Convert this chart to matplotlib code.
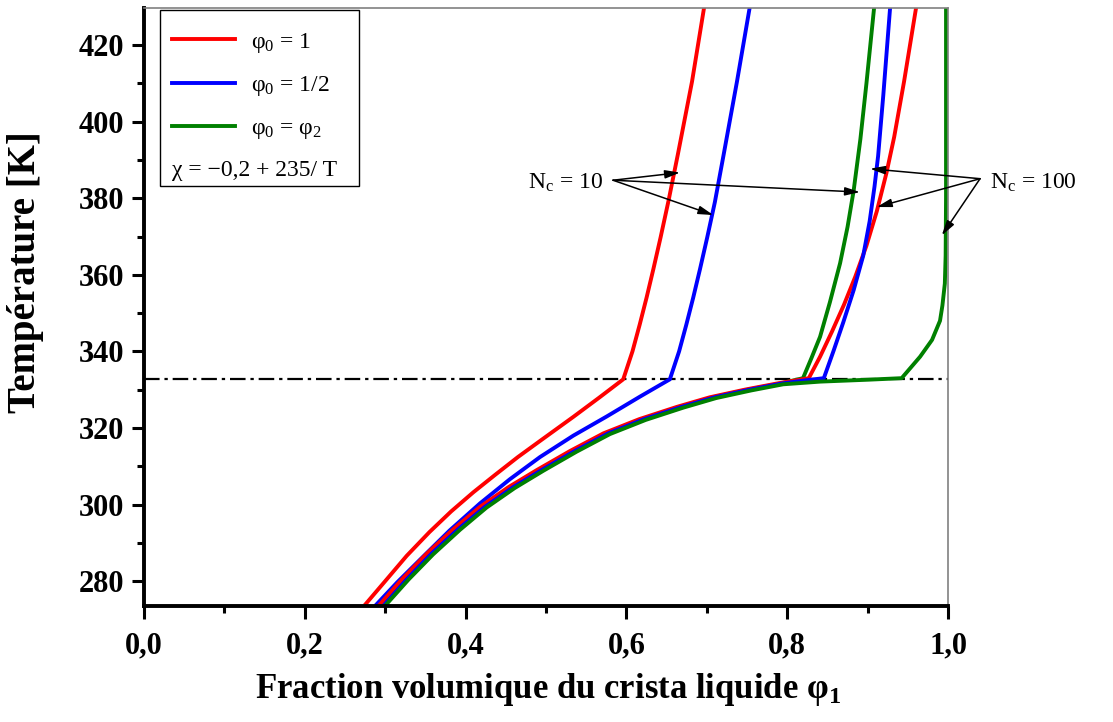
import matplotlib
matplotlib.use('Agg')
import matplotlib.pyplot as plt
from matplotlib.patches import Rectangle

plt.rcParams['font.family'] = ['Liberation Serif', 'DejaVu Serif']
plt.rcParams['mathtext.fontset'] = 'custom'
plt.rcParams['mathtext.rm'] = 'Liberation Serif'
plt.rcParams['mathtext.it'] = 'Liberation Serif:italic'
plt.rcParams['mathtext.bf'] = 'Liberation Serif:bold'

# --- donnees (phi_1, T en K) ---
# N_c = 10
rouge10_x = [0.2736, 0.300, 0.3267, 0.355, 0.382, 0.4096, 0.437, 0.465, 0.4925,
             0.534, 0.566, 0.596,
             0.6075, 0.6165, 0.6250, 0.6335, 0.6425, 0.6525, 0.6640, 0.6816, 0.6965]
rouge10_T = [273.5, 280.0, 286.6, 292.8, 298.2, 303.2, 307.8, 312.4, 316.6,
             322.9, 327.9, 332.7,
             340.0, 347.0, 354.0, 361.5, 369.8, 379.5, 391.5, 410.5, 429.7]

bleu10_x = [0.2873, 0.315, 0.3433, 0.380, 0.4179, 0.455, 0.4925, 0.534, 0.5755,
            0.617, 0.654,
            0.6655, 0.6745, 0.6830, 0.6915, 0.7005, 0.7100, 0.7210, 0.7375, 0.7532]
bleu10_T = [273.5, 279.7, 285.6, 293.2, 300.3, 306.6, 312.4, 318.0, 323.0,
            328.2, 332.7,
            340.0, 347.0, 354.0, 361.5, 369.8, 379.0, 391.5, 410.5, 429.7]

vert10_x = [0.2956, 0.325, 0.3557, 0.389, 0.422, 0.457, 0.4925, 0.534, 0.5755,
            0.620, 0.6667, 0.7075, 0.7512, 0.791, 0.8196,
            0.8300, 0.8408, 0.8530, 0.8657, 0.8750, 0.8826, 0.8910, 0.8985, 0.9080]
vert10_T = [273.5, 280.5, 287.2, 293.6, 299.4, 304.5, 309.0, 314.0, 318.6,
            322.3, 325.5, 328.0, 330.0, 331.6, 333.0,
            338.2, 343.8, 352.8, 363.0, 372.5, 382.0, 395.5, 410.0, 429.7]

# N_c = 100
rouge100_x = [0.2916, 0.321, 0.3517, 0.385, 0.418, 0.453, 0.4885, 0.530, 0.5715,
              0.616, 0.6627, 0.7035, 0.7472, 0.787, 0.810, 0.8268,
              0.8408, 0.8557, 0.8706, 0.8846, 0.8985, 0.9114, 0.9234, 0.9330,
              0.9453, 0.9602]
rouge100_T = [273.5, 280.5, 287.2, 293.6, 299.4, 304.5, 309.0, 314.0, 318.6,
              322.3, 325.5, 328.0, 330.0, 331.6, 332.4, 333.0,
              338.6, 345.2, 352.2, 359.5, 367.6, 376.6, 386.6, 396.0,
              410.5, 429.7]

bleu100_x = [0.2976, 0.327, 0.3577, 0.391, 0.424, 0.459, 0.4945, 0.536, 0.5775,
             0.622, 0.6687, 0.7095, 0.7532, 0.793, 0.8216, 0.8455,
             0.8577, 0.8697, 0.8826, 0.8945, 0.9025, 0.9085, 0.9130, 0.9195, 0.9279]
bleu100_T = [273.5, 280.5, 287.2, 293.6, 299.4, 304.5, 309.0, 314.0, 318.6,
             322.3, 325.5, 328.0, 330.0, 331.6, 332.4, 333.0,
             340.2, 347.6, 356.0, 365.0, 374.0, 383.0, 391.0, 407.0, 429.7]

vert100_x = [0.2996, 0.329, 0.3597, 0.393, 0.426, 0.461, 0.4965, 0.538, 0.5795,
             0.624, 0.6707, 0.7115, 0.7552, 0.795, 0.8408, 0.9005, 0.9423,
             0.9652, 0.9801, 0.9900, 0.9930, 0.9960, 0.9970, 0.9975, 0.9975]
vert100_T = [273.5, 280.4, 287.0, 293.4, 299.2, 304.3, 308.8, 313.8, 318.4,
             322.1, 325.3, 327.8, 329.8, 331.4, 332.1, 332.6, 333.0,
             338.6, 343.0, 348.0, 352.0, 357.7, 365.0, 380.0, 429.7]

T_transition = 332.9

legende = ['φ$_\\mathregular{0}$ = 1', 'φ$_\\mathregular{0}$ = 1/2',
           'φ$_\\mathregular{0}$ = φ$_\\mathregular{2}$']
chi_texte = 'χ = −0,2 + 235/ T'

xticks = [0.0, 0.2, 0.4, 0.6, 0.8, 1.0]
xticks_min = [0.1, 0.3, 0.5, 0.7, 0.9]
yticks = [280, 300, 320, 340, 360, 380, 400, 420]
yticks_min = [290, 310, 330, 350, 370, 390, 410]

# fleches : origine et cibles
orig10 = (0.5833, 384.7)
cibles10 = [(0.6667, 386.7), (0.7081, 375.6), (0.8905, 381.6)]
orig100 = (1.0398, 385.1)
cibles100 = [(0.9030, 387.7), (0.9113, 377.7), (0.9922, 370.3)]

fig = plt.figure(figsize=(11.13, 7.22), dpi=100)
ax = fig.add_axes([0.1294, 0.1607, 0.7224, 0.8283])

lw = 2.8
ax.plot(rouge10_x, rouge10_T, color='#ff0000', lw=lw, label=legende[0])
ax.plot(bleu10_x, bleu10_T, color='#0000ff', lw=lw, label=legende[1])
ax.plot(vert10_x, vert10_T, color='#008000', lw=lw, label=legende[2])
ax.plot(rouge100_x, rouge100_T, color='#ff0000', lw=lw)
ax.plot(bleu100_x, bleu100_T, color='#0000ff', lw=lw)
ax.plot(vert100_x, vert100_T, color='#008000', lw=lw)

ax.axhline(T_transition, color='black', lw=1.6, ls=(0, (7, 2.2, 1.5, 2.2)), zorder=1)

ax.set_xlim(0, 1.0)
ax.set_ylim(273.5, 429.7)

ax.set_xticks(xticks)
ax.set_xticklabels([f'{v:.1f}'.replace('.', ',') for v in xticks])
ax.set_xticks(xticks_min, minor=True)
ax.set_yticks(yticks)
ax.set_yticks(yticks_min, minor=True)

for lab in ax.get_xticklabels() + ax.get_yticklabels():
    lab.set_fontweight('bold')
    lab.set_fontsize(22)

ax.tick_params(which='major', direction='out', length=9, width=2.2)
ax.tick_params(which='minor', direction='out', length=5, width=2.2)
ax.tick_params(axis='x', which='major', pad=9)
ax.tick_params(axis='y', which='major', pad=5)
ax.tick_params(top=False, right=False)

for s in ['left', 'bottom']:
    ax.spines[s].set_linewidth(2.8)
for s in ['top', 'right']:
    ax.spines[s].set_linewidth(1.2)
    ax.spines[s].set_color('gray')

ax.set_xlabel('Fraction volumique du crista liquide φ$_\\mathregular{1}$',
              fontsize=25, fontweight='bold')
ax.set_ylabel('Température [K]', fontsize=28, fontweight='bold')
ax.xaxis.set_label_coords(0.502, -0.108)
ax.yaxis.set_label_coords(-0.125, 0.5585)

# legende encadree
ax.add_patch(Rectangle((0.0199, 0.7023), 0.2475, 0.2944, transform=ax.transAxes,
                       fill=False, edgecolor='black', lw=1.0, zorder=5))
ax.legend(loc='upper left', bbox_to_anchor=(0.0199, 0.9816), frameon=False,
          fontsize=17, handlelength=2.67, handletextpad=0.7, labelspacing=0.83,
          borderpad=0.5, borderaxespad=0)
ax.text(0.0348, 0.729, chi_texte, transform=ax.transAxes, fontsize=17,
        va='center', ha='left')

fleche = dict(arrowstyle='-|>,head_length=0.9,head_width=0.25', color='black',
              lw=1.1, shrinkA=0, shrinkB=0)
for c in cibles10:
    ax.annotate('', xy=c, xytext=orig10, arrowprops=fleche, annotation_clip=False)
for c in cibles100:
    ax.annotate('', xy=c, xytext=orig100, arrowprops=fleche, annotation_clip=False)
ax.text(0.5709, 384.0, 'N$_\\mathregular{c}$ = 10', fontsize=17, ha='right', va='center')
ax.text(1.0522, 384.0, 'N$_\\mathregular{c}$ = 100', fontsize=17, ha='left', va='center')

fig.savefig('out.png', dpi=100)
